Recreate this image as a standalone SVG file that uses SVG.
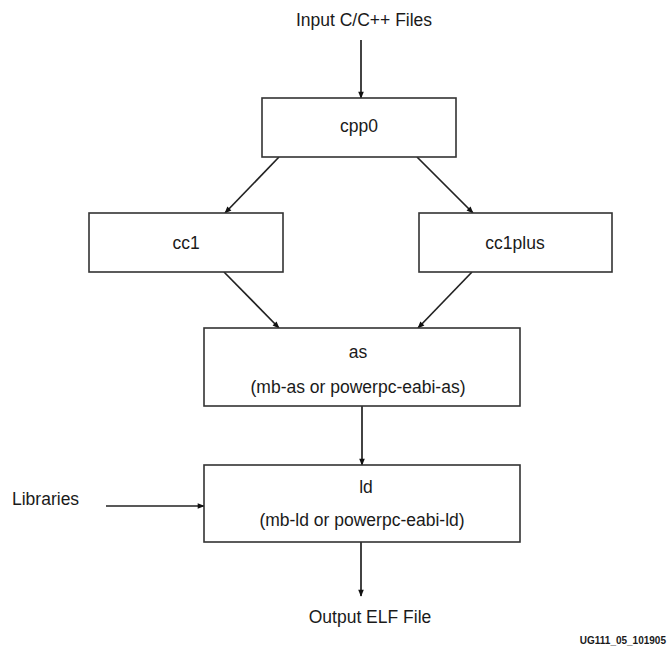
<svg xmlns="http://www.w3.org/2000/svg" width="667" height="648" viewBox="0 0 667 648">
<style>
text{font-family:"Liberation Sans",Arial,sans-serif;font-size:17.5px;fill:#1a1a1a;text-anchor:middle}
.box{fill:#fff;stroke:#333;stroke-width:1.6}
.c{stroke:#222;stroke-width:1.7;fill:none}
.id{font-size:10px;font-weight:bold;text-anchor:end}
</style>
<defs>
<marker id="ah" viewBox="0 0 10 10" refX="9" refY="5" markerWidth="8" markerHeight="7" markerUnits="userSpaceOnUse" orient="auto">
<path d="M0,1 L10,5 L0,9 z" fill="#111"/>
</marker>
</defs>
<rect width="667" height="648" fill="#fff"/>
<g id="connectors">
<line class="c" x1="361" y1="40" x2="361" y2="98" marker-end="url(#ah)"/>
<line class="c" x1="279" y1="157" x2="225" y2="213" marker-end="url(#ah)"/>
<line class="c" x1="417" y1="157" x2="473" y2="213" marker-end="url(#ah)"/>
<line class="c" x1="224" y1="272" x2="279" y2="328" marker-end="url(#ah)"/>
<line class="c" x1="472" y1="272" x2="418" y2="328" marker-end="url(#ah)"/>
<line class="c" x1="362" y1="406" x2="362" y2="465" marker-end="url(#ah)"/>
<line class="c" x1="106" y1="506" x2="204" y2="506" marker-end="url(#ah)"/>
<line class="c" x1="361" y1="542" x2="361" y2="596" marker-end="url(#ah)"/>
</g>
<g id="input"><text x="364" y="26">Input C/C++ Files</text></g>
<g id="cpp0"><rect class="box" x="262" y="98" width="194" height="59"/><text x="359" y="132">cpp0</text></g>
<g id="cc1"><rect class="box" x="89" y="213" width="194" height="59"/><text x="186" y="249">cc1</text></g>
<g id="cc1plus"><rect class="box" x="419" y="213" width="193" height="59"/><text x="515" y="249">cc1plus</text></g>
<g id="as"><rect class="box" x="204" y="328" width="316" height="78"/><text x="358" y="358">as</text><text x="358" y="393">(mb-as or powerpc-eabi-as)</text></g>
<g id="ld"><rect class="box" x="204" y="465" width="316" height="77"/><text x="366" y="493">ld</text><text x="362" y="526">(mb-ld or powerpc-eabi-ld)</text></g>
<g id="libraries"><text x="12" y="505" style="text-anchor:start">Libraries</text></g>
<g id="output"><text x="370" y="623">Output ELF File</text></g>
<text class="id" x="666" y="644">UG111_05_101905</text>
</svg>
